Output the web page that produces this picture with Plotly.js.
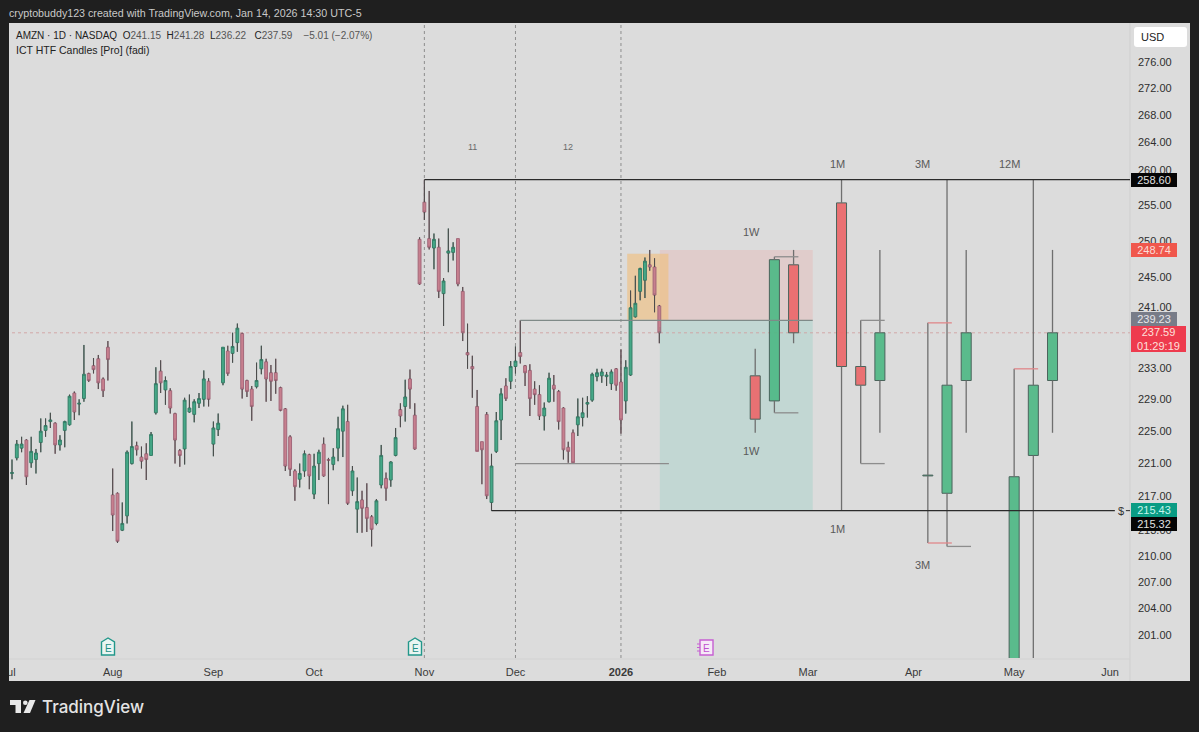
<!DOCTYPE html>
<html><head><meta charset="utf-8">
<script src="https://cdn.plot.ly/plotly-3.0.1.min.js"></script>
<style>html,body{margin:0;padding:0;background:#1f1f1f;overflow:hidden}#c{width:1199px;height:732px}</style>
</head><body><div id="c"></div>
<script>
// Daily bars of AMZN
const open = [219.8,221.7,222.9,223.9,221.1,221.5,223.6,225.1,226.2,226.0,
223.3,225.1,225.8,229.8,228.4,229.1,232.3,233.3,234.2,231.6,
235.7,217.2,217.4,213.0,214.7,221.0,223.2,221.8,222.2,222.0,
227.3,232.6,230.2,230.1,227.2,222.6,222.8,227.4,227.1,228.5,
229.0,231.3,223.4,225.2,231.1,235.2,234.9,236.3,237.5,231.4,
230.3,230.6,232.9,233.8,232.4,232.4,230.5,227.8,224.3,220.1,
219.1,220.1,222.1,217.3,221.0,223.4,221.5,220.9,222.9,225.0,
226.2,217.7,215.5,216.6,215.7,214.6,213.8,218.4,219.2,219.0,
222.0,227.7,228.1,231.6,227.0,250.2,255.4,250.3,249.0,249.1,
242.8,248.3,248.4,250.3,243.1,235.0,233.2,228.1,223.7,227.1,
216.3,222.5,226.4,230.7,231.3,233.2,235.0,233.3,232.7,230.3,
229.6,226.9,228.7,230.8,230.0,227.9,223.0,224.8,225.8,226.7,
228.4,228.9,231.9,232.0,231.9,231.0,232.9,231.2,228.8,232.1,
239.7,243.1,244.6,246.7,246.4,241.15];
const high = [221.5,223.9,224.3,224.0,224.3,222.8,226.6,226.6,227.3,226.1,
224.5,226.3,229.6,230.0,229.0,236.0,232.4,234.3,234.7,231.8,
236.5,220.4,217.5,216.3,222.6,226.2,223.7,223.1,223.5,224.9,
233.1,234.0,231.9,230.4,227.3,222.8,229.2,229.6,229.0,229.8,
232.7,231.7,226.2,227.2,235.7,235.9,237.6,238.8,237.6,231.5,
230.7,233.7,235.9,234.2,233.4,234.2,230.6,227.9,224.5,220.3,
221.0,222.6,222.2,222.2,222.7,224.2,221.7,222.9,226.8,228.2,
228.3,220.7,219.3,217.7,218.6,214.8,216.7,223.3,219.9,221.3,
225.4,228.5,231.5,232.8,228.5,250.5,258.6,257.0,251.0,250.3,
244.9,251.7,249.8,250.3,243.7,238.8,234.6,230.2,223.7,227.4,
222.2,227.4,230.4,231.7,233.9,235.8,239.23,233.4,233.5,231.3,
230.8,228.6,232.4,232.1,230.2,228.0,223.7,225.2,229.1,229.2,
229.4,232.4,232.9,232.9,232.5,232.8,233.0,235.4,234.0,243.2,
245.2,246.3,247.7,248.74,247.6,241.28];
const low = [219.1,221.4,222.4,218.4,220.5,219.8,222.4,224.3,225.4,222.2,
222.6,223.0,225.7,226.4,227.0,228.7,231.2,232.3,230.3,229.3,
231.4,212.9,211.5,212.9,213.8,220.9,222.0,220.4,219.0,222.0,
227.1,229.8,228.3,227.2,221.0,220.6,220.9,227.3,226.1,227.9,
228.1,228.1,221.9,224.4,230.8,232.0,233.7,235.1,229.1,229.3,
226.3,230.4,232.2,228.7,228.8,229.7,227.5,220.1,219.5,216.5,
218.1,219.4,217.9,216.7,219.0,219.4,216.1,220.2,221.3,221.8,
216.0,217.1,212.7,212.7,212.8,211.1,213.6,218.0,216.5,218.2,
221.9,225.5,226.2,227.8,222.7,244.0,252.9,248.8,246.1,242.2,
238.5,245.7,247.3,243.8,236.5,232.9,229.2,222.5,218.5,216.7,
215.32,222.3,223.9,228.8,230.3,232.3,233.6,230.7,226.9,228.3,
226.4,225.1,228.6,228.7,225.2,221.5,221.1,221.0,224.4,225.6,
226.7,228.7,231.3,231.1,230.7,230.2,230.1,224.7,227.2,232.0,
239.6,241.9,242.2,245.9,240.3,236.22];
const close = [219.9,223.4,223.4,219.4,222.5,222.3,225.0,225.7,226.4,223.3,
223.9,226.2,229.4,227.4,228.5,232.2,231.4,232.8,231.1,230.1,
234.1,214.8,211.7,213.8,222.4,223.1,222.7,221.3,221.5,224.6,
231.0,231.1,231.4,227.9,223.9,222.0,228.9,227.9,228.7,229.1,
231.6,229.0,225.4,226.0,235.7,232.3,235.8,238.2,230.3,230.0,
228.1,231.4,234.1,231.6,231.3,231.4,227.6,220.7,220.3,218.2,
219.8,222.2,219.5,220.7,222.4,219.5,221.4,221.8,225.3,227.8,
216.2,220.1,216.4,215.6,214.4,213.1,216.5,222.0,218.0,221.2,
224.2,226.9,229.3,230.3,222.8,244.1,254.0,249.1,250.2,243.1,
244.5,248.6,249.1,244.1,237.6,234.7,232.9,222.5,222.7,217.1,
220.7,226.3,229.7,229.1,233.2,233.9,234.5,232.4,229.1,229.6,
226.9,227.9,231.7,230.3,226.2,222.7,222.5,221.1,226.8,227.3,
228.6,232.2,232.4,232.5,232.1,232.5,230.8,226.4,233.1,240.9,
241.5,246.2,247.2,246.4,242.6,237.59];
const barNo = open.map((_, i) => i + 1);

// Higher-timeframe candles of the indicator
const htfBar   = [156,160,164,174,178,182,192,196,200,210,214,218];
const htfOpen  = [232.0,228.8,246.7,255.3,233.2,231.4,219.5,217.4,231.4,190.0,222.0,231.4];
const htfHigh  = [235.5,247.8,248.74,258.6,239.23,248.74,238.9,258.6,248.74,232.9,258.6,248.74];
const htfLow   = [224.8,227.3,236.22,215.32,221.0,224.8,211.5,211.1,224.8,190.0,190.0,224.8];
const htfClose = [226.5,247.4,237.59,233.2,230.8,237.59,219.6,230.8,237.59,219.4,230.8,237.59];

// Bracket lines: from bar, to bar, price
const greyFrom = [160,160,178,178,196], greyTo = [165,165,183,183,201], greyLevel = [247.8,227.3,239.23,221.0,211.1];
const redFrom = [192,192,210], redTo = [197,197,215], redLevel = [238.9,211.5,232.9];

// Axis labels
const monthBars = [0.3,22,43,64,87,106,128,148,167,189,210,230];
const monthLabels = ['Jul','Aug','Sep','Oct','Nov','Dec','<b>2026</b>','Feb','Mar','Apr','May','Jun'];
const priceTicks = [276,272,268,264,260,255,250,245,241,233,229,225,221,217,213,210,207,204,201];

// Levels
const topLevel = 258.60, bottomLevel = 215.32, midLevel = 239.23, lowLevel = 221.0, lastPrice = 237.59;
const orangeTop = 248.2, orangeBottom = 239.3, riskTop = 248.74;

const PW = 1130, PH = 635, TOP = 23;
const X = px => px / PW, Y = py => (TOP + PH - py) / PH;
const C = {dark:'#1f1f1f', panel:'#dcdcdc', text:'#2e2e2e'};
const FF = '"Liberation Sans", Arial, sans-serif';

const traces = [];
traces.push({type:'bar', x:htfBar, base:htfOpen.map((o,i)=>Math.min(o,htfClose[i])),
  y:htfOpen.map((o,i)=>Math.abs(o-htfClose[i])), width:2.09, opacity:0.92,
  marker:{color:htfOpen.map((o,i)=>htfClose[i]>=o?'#4fb986':'#ec696b'), line:{color:'#3f5a52',width:1}},
  hoverinfo:'skip', showlegend:false});
const wx=[], wy=[];
htfBar.forEach((b,i)=>{const t=Math.max(htfOpen[i],htfClose[i]), d=Math.min(htfOpen[i],htfClose[i]);
  wx.push(b,b,null,b,b,null); wy.push(htfHigh[i],t,null,d,htfLow[i],null);});
traces.push({type:'scatter',mode:'lines',x:wx,y:wy,line:{color:'#6f6f6f',width:1.3},hoverinfo:'skip',showlegend:false});
const seg=(f,t,l)=>{const x=[],y=[];f.forEach((v,i)=>{x.push(v,t[i],null);y.push(l[i],l[i],null);});return {x,y};};
traces.push(Object.assign({type:'scatter',mode:'lines',line:{color:'#8d8d8d',width:1.3},hoverinfo:'skip',showlegend:false},seg(greyFrom,greyTo,greyLevel)));
traces.push(Object.assign({type:'scatter',mode:'lines',line:{color:'#e0878a',width:1.3},hoverinfo:'skip',showlegend:false},seg(redFrom,redTo,redLevel)));
traces.push({type:'candlestick',x:barNo,open:open,high:high,low:low,close:close,whiskerwidth:0,hoverinfo:'skip',showlegend:false,
  increasing:{line:{color:'#357f68',width:1},fillcolor:'#45a887'},
  decreasing:{line:{color:'#a3687a',width:1},fillcolor:'#c77f8e'}});
// wicks of the daily bars, drawn outside the bodies
const dwx=[], dwy=[];
barNo.forEach((b,i)=>{const t=Math.max(open[i],close[i]), d=Math.min(open[i],close[i]);
  dwx.push(b,b,null,b,b,null); dwy.push(high[i],t,null,d,low[i],null);});
traces.push({type:'scatter',mode:'lines',x:dwx,y:dwy,line:{color:'#4c4c4c',width:1.1},hoverinfo:'skip',showlegend:false});

const rect=(x0,x1,y0,y1,fill)=>({type:'rect',xref:'x',yref:'y',x0,x1,y0,y1,fillcolor:fill,line:{width:0},layer:'below'});
const hline=(x0,x1,y,color,w,dash,layer)=>({type:'line',xref:'x',yref:'y',x0,x1,y0:y,y1:y,line:{color,width:w,dash:dash||'solid'},layer:layer||'above'});
const pxRect=(x0,x1,y0,y1,fill,layer)=>({type:'rect',xref:'paper',yref:'paper',x0:X(x0),x1:X(x1),y0:Y(y0),y1:Y(y1),fillcolor:fill,line:{width:0},layer:layer||'below'});
const pxPath=(d,fill,line,layer)=>({type:'path',xref:'paper',yref:'paper',path:d,fillcolor:fill,line:line||{width:0},layer:layer||'above'});
const P=(x,y)=>X(x)+' '+Y(y);
const R=234.16;
const shapes=[
  pxRect(9,1190,658,681,C.panel), pxRect(1130,1190,23,681,C.panel),
  rect(136.1,168,midLevel,riskTop,'#e0cccb'), rect(136.1,168,bottomLevel,midLevel,'#c2d7d3'),
  rect(129.3,137.9,orangeBottom,orangeTop,'rgba(240,190,125,0.62)'),
  ...[87,106,128].map(b=>({type:'line',xref:'x',yref:'paper',x0:b,x1:b,y0:0,y1:1,line:{color:'#8e8e8e',width:1,dash:'dot'},layer:'below'})),
  hline(-1.5,R,lastPrice,'#d3a3a3',0.9,'dot','below'),
  hline(107,168,midLevel,'#7f8a88',1.2),
  hline(106,138,lowLevel,'#8c8c8c',1.2),
  hline(87,R,topLevel,'#2b2b2b',1.3),
  hline(101,231,bottomLevel,'#2b2b2b',1.3),
  hline(233.3,R,bottomLevel,'#2b2b2b',1),
  {type:'line',xref:'paper',yref:'paper',x0:X(1130),x1:X(1130),y0:Y(23),y1:Y(681),line:{color:'#cfcfcf',width:1},layer:'below'},
  {type:'line',xref:'paper',yref:'paper',x0:X(9),x1:X(1130),y0:Y(659),y1:Y(659),line:{color:'#d2d2d2',width:1},layer:'below'},
  pxRect(0,9,0,732,C.dark,'above'),
  // earnings flags
  ...[108,415].map(c=>pxPath('M'+P(c-6.5,642)+' L'+P(c,638)+' L'+P(c+6.5,642)+' L'+P(c+6.5,655)+' L'+P(c-6.5,655)+' Z','#eaf5f2',{color:'#22978a',width:1.4})),
  pxPath('M'+P(700,640)+' L'+P(713,640)+' L'+P(713,655)+' L'+P(700,655)+' Z','#f6e9f7',{color:'#c65fd2',width:1.4}),
  pxPath('M'+P(697,644)+' L'+P(700,644)+' M'+P(697,647.5)+' L'+P(700,647.5)+' M'+P(697,651)+' L'+P(700,651),'rgba(0,0,0,0)',{color:'#c65fd2',width:1}),
  // USD button
  pxPath('M'+P(1137,27)+' L'+P(1184,27)+' Q'+P(1187,27)+' '+P(1187,30)+' L'+P(1187,44)+' Q'+P(1187,47)+' '+P(1184,47)+' L'+P(1137,47)+' Q'+P(1134,47)+' '+P(1134,44)+' L'+P(1134,30)+' Q'+P(1134,27)+' '+P(1137,27)+' Z','#ffffff'),
  // TradingView mark
  pxPath('M'+P(10,700)+' L'+P(21,700)+' L'+P(21,713)+' L'+P(15.5,713)+' L'+P(15.5,705)+' L'+P(10,705)+' Z','#e8e8e8'),
  pxPath('M'+P(29.5,700)+' L'+P(35.5,700)+' L'+P(30,713)+' L'+P(23.5,713)+' Z','#e8e8e8'),
  {type:'circle',xref:'paper',yref:'paper',x0:X(23),x1:X(27.6),y0:Y(705),y1:Y(700.4),fillcolor:'#e8e8e8',line:{width:0},layer:'above'}
];

const txt=(text,px,py,size,color,anchor,extra)=>Object.assign({text,xref:'paper',yref:'paper',x:X(px),y:Y(py),showarrow:false,
  xanchor:anchor||'center',yanchor:'middle',font:{family:FF,size,color},borderpad:0},extra||{});
const tag=(text,x0,x1,y0,y1,bg,color)=>({text,xref:'paper',yref:'paper',x:X(x0),y:Y(y0),xanchor:'left',yanchor:'top',showarrow:false,
  width:x1-x0,height:y1-y0,bgcolor:bg,align:'center',valign:'middle',borderpad:0,borderwidth:0,font:{family:FF,size:11,color}});
const g=s=>'<span style="color:#555">'+s+'</span>';
const nb='\u00a0';
const annotations=[
  txt('cryptobuddy123 created with TradingView.com, Jan 14, 2026 14:30 UTC-5',8,13,10.7,'#c9c9c9','left'),
  txt('AMZN · 1D · NASDAQ'+nb+nb+'O'+g('241.15')+nb+nb+'H'+g('241.28')+nb+nb+'L'+g('236.22')+nb+nb+nb+'C'+g('237.59')+nb+nb+nb+nb+g('−5.01 (−2.07%)'),15,35.5,10,'#222','left'),
  txt('ICT HTF Candles [Pro] (fadi)',15,50,10.5,'#222','left'),
  txt('11',472,147,9,'#6a6a6a'), txt('12',568,147,9,'#6a6a6a'),
  txt('1W',751,232.5,11,'#5a5a5a'), txt('1W',751,451,11,'#5a5a5a'),
  txt('1M',837,164,11,'#5a5a5a'), txt('1M',837,529,11,'#5a5a5a'),
  txt('3M',922,164,11,'#5a5a5a'), txt('3M',922,565,11,'#5a5a5a'),
  txt('12M',1009,164,11,'#5a5a5a'),
  txt('↓',659.5,329,11,'#777'),
  txt('$',1121,511,11,'#333'),
  txt('E',108,648,10,'#1f8f84'), txt('E',415,648,10,'#1f8f84'), txt('E',706.5,648,10,'#c050cf'),
  txt('USD',1152,37,11,'#222'),
  tag('258.60',1131,1177,173,187,'#050505','#e2e2e2'),
  tag('248.74',1131,1177,243,257,'#f0574c','#fbdcd6'),
  tag('239.23',1131,1177,312,326,'#787c88','#e6e6ea'),
  tag('237.59<br>01:29:19',1131,1186,326,352,'#ee3b4e','#fde0dc'),
  tag('215.43',1131,1177,503,517,'#0a9c84','#c5f5ec'),
  tag('215.32',1131,1177,517,531,'#050505','#e2e2e2'),
  txt('TradingView',40.5,707,17,'#e4e4e4','left',{font:{family:'Inter, "Liberation Sans", sans-serif',size:17,color:'#e4e4e4',weight:500}})
];

const layout={width:1199,height:732,autosize:false,paper_bgcolor:C.dark,plot_bgcolor:C.panel,showlegend:false,
  margin:{l:0,r:69,t:23,b:74,pad:0},barmode:'overlay',boxgap:0.15,dragmode:false,
  xaxis:{type:'linear',range:[-1.5026,234.16],rangeslider:{visible:false},showgrid:false,zeroline:false,showline:false,
    tickmode:'array',tickvals:monthBars,ticktext:monthLabels,ticks:'',ticklabelstandoff:6,ticklabeloverflow:'allow',tickangle:0,tickfont:{family:FF,size:11,color:'#3a3a3a'}},
  yaxis:{type:'log',side:'right',range:[Math.log10(198.46),Math.log10(282.02)],showgrid:false,zeroline:false,showline:false,
    tickmode:'array',tickvals:priceTicks,ticktext:priceTicks.map(v=>v.toFixed(2)),ticks:'',ticklabelstandoff:7,tickfont:{family:FF,size:11,color:'#2e2e2e'}},
  shapes,annotations};
Plotly.newPlot('c',traces,layout,{displayModeBar:false,staticPlot:true});
</script></body></html>
